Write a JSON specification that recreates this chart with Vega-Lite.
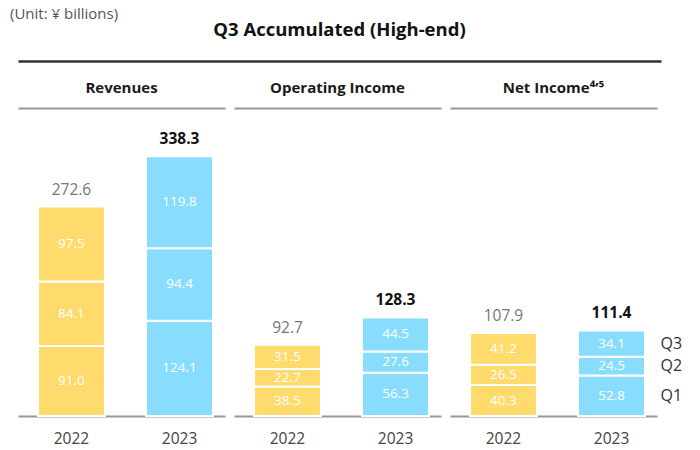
{
  "$schema": "https://vega.github.io/schema/vega-lite/v6.json",
  "padding": {"left": 10, "top": 7, "right": 5, "bottom": 5},
  "config": {"view": {"stroke": null}, "font": "Open Sans"},
  "spacing": 20,
  "vconcat": [
    {
      "width": 643,
      "height": 54,
      "data": {"values": [{"title": "Q3 Accumulated (High-end)", "unit": "(Unit: ¥ billions)"}]},
      "layer": [
        {
          "mark": {"type": "text", "fontSize": 18.5, "fontWeight": "bold", "color": "#111", "baseline": "middle"},
          "encoding": {
            "x": {"datum": 0.5, "type": "quantitative", "scale": {"domain": [0, 1]}, "axis": {"orient": "bottom", "domain": true, "domainColor": "#333", "domainWidth": 2.5, "labels": false, "ticks": false, "grid": false, "title": null}},
            "y": {"datum": 0.575, "type": "quantitative", "scale": {"domain": [0, 1]}, "axis": null},
            "text": {"field": "title"}
          }
        },
        {
          "mark": {"type": "text", "fontSize": 15, "color": "#555", "align": "left", "baseline": "top", "dx": -8},
          "encoding": {
            "x": {"datum": 0, "type": "quantitative", "scale": {"domain": [0, 1]}, "axis": {"orient": "bottom", "domain": true, "domainColor": "#333", "domainWidth": 2.5, "labels": false, "ticks": false, "grid": false, "title": null}},
            "y": {"datum": 1, "type": "quantitative", "scale": {"domain": [0, 1]}, "axis": null},
            "text": {"field": "unit"}
          }
        }
      ]
    },
    {
      "data": {"values": [
        {"metric": "Revenues", "year": "2022", "kind": "quarter", "q": "Q1", "value": 91.0},
        {"metric": "Revenues", "year": "2022", "kind": "quarter", "q": "Q2", "value": 84.1},
        {"metric": "Revenues", "year": "2022", "kind": "quarter", "q": "Q3", "value": 97.5},
        {"metric": "Revenues", "year": "2023", "kind": "quarter", "q": "Q1", "value": 124.1},
        {"metric": "Revenues", "year": "2023", "kind": "quarter", "q": "Q2", "value": 94.4},
        {"metric": "Revenues", "year": "2023", "kind": "quarter", "q": "Q3", "value": 119.8},
        {"metric": "Operating Income", "year": "2022", "kind": "quarter", "q": "Q1", "value": 38.5},
        {"metric": "Operating Income", "year": "2022", "kind": "quarter", "q": "Q2", "value": 22.7},
        {"metric": "Operating Income", "year": "2022", "kind": "quarter", "q": "Q3", "value": 31.5},
        {"metric": "Operating Income", "year": "2023", "kind": "quarter", "q": "Q1", "value": 56.3},
        {"metric": "Operating Income", "year": "2023", "kind": "quarter", "q": "Q2", "value": 27.6},
        {"metric": "Operating Income", "year": "2023", "kind": "quarter", "q": "Q3", "value": 44.5},
        {"metric": "Net Income⁴’⁵", "year": "2022", "kind": "quarter", "q": "Q1", "value": 40.3},
        {"metric": "Net Income⁴’⁵", "year": "2022", "kind": "quarter", "q": "Q2", "value": 26.5},
        {"metric": "Net Income⁴’⁵", "year": "2022", "kind": "quarter", "q": "Q3", "value": 41.2},
        {"metric": "Net Income⁴’⁵", "year": "2023", "kind": "quarter", "q": "Q1", "value": 52.8},
        {"metric": "Net Income⁴’⁵", "year": "2023", "kind": "quarter", "q": "Q2", "value": 24.5},
        {"metric": "Net Income⁴’⁵", "year": "2023", "kind": "quarter", "q": "Q3", "value": 34.1},
        {"metric": "Revenues", "year": "2022", "kind": "total", "total": 272.6},
        {"metric": "Revenues", "year": "2023", "kind": "total", "total": 338.3},
        {"metric": "Operating Income", "year": "2022", "kind": "total", "total": 92.7},
        {"metric": "Operating Income", "year": "2023", "kind": "total", "total": 128.3},
        {"metric": "Net Income⁴’⁵", "year": "2022", "kind": "total", "total": 107.9},
        {"metric": "Net Income⁴’⁵", "year": "2023", "kind": "total", "total": 111.4}
      ]},
      "facet": {
        "column": {
          "field": "metric",
          "type": "nominal",
          "sort": ["Revenues", "Operating Income", "Net Income⁴’⁵"],
          "header": {"title": null, "labelFontSize": 15, "labelFontWeight": "bold", "labelColor": "#1a1a1a", "labelPadding": 12}
        }
      },
      "spacing": 9,
      "bounds": "flush",
      "spec": {
        "width": 207,
        "height": 308,
        "encoding": {
          "x": {
            "field": "year",
            "type": "nominal",
            "scale": {"paddingInner": 0.38, "paddingOuter": 0.148, "align": 0.625},
            "axis": {"orient": "bottom", "domainColor": "#999", "domainWidth": 2, "ticks": false, "labelFontSize": 15.5, "labelColor": "#444", "labelPadding": 15, "labelAngle": 0, "title": null}
          }
        },
        "layer": [
          {
            "transform": [{"filter": {"field": "kind", "equal": "quarter"}}],
            "mark": {"type": "bar", "stroke": "white", "strokeWidth": 2},
            "encoding": {
              "y": {"field": "value", "type": "quantitative", "stack": "zero", "scale": {"domain": [0, 401], "nice": false},
                "axis": {"values": [401], "grid": true, "gridColor": "#999", "gridWidth": 2, "labels": false, "ticks": false, "domain": false, "title": null}},
              "color": {"field": "year", "type": "nominal", "scale": {"domain": ["2022", "2023"], "range": ["#FFDB6E", "#88DDFF"]}, "legend": null},
              "detail": {"field": "q"},
              "order": {"field": "q", "sort": "ascending"}
            }
          },
          {
            "transform": [{"filter": {"field": "kind", "equal": "quarter"}}],
            "mark": {"type": "text", "color": "white", "fontSize": 13.5, "baseline": "middle"},
            "encoding": {
              "y": {"field": "value", "type": "quantitative", "stack": "zero", "bandPosition": 0.5,
                "axis": {"values": [401], "grid": true, "gridColor": "#999", "gridWidth": 2, "labels": false, "ticks": false, "domain": false, "title": null}},
              "detail": {"field": "q"},
              "order": {"field": "q", "sort": "ascending"},
              "text": {"field": "value", "type": "quantitative", "format": ".1f"}
            }
          },
          {
            "transform": [{"filter": "datum.kind == 'quarter' && datum.year == '2023' && datum.metric == 'Net Income⁴’⁵'"}],
            "mark": {"type": "text", "color": "#333", "fontSize": 16, "baseline": "middle", "align": "left", "dx": 49},
            "encoding": {
              "y": {"field": "value", "type": "quantitative", "stack": "zero", "bandPosition": 0.5,
                "axis": {"values": [401], "grid": true, "gridColor": "#999", "gridWidth": 2, "labels": false, "ticks": false, "domain": false, "title": null}},
              "detail": {"field": "q"},
              "order": {"field": "q", "sort": "ascending"},
              "text": {"field": "q"}
            }
          },
          {
            "transform": [{"filter": "datum.kind == 'total' && datum.year == '2022'"}],
            "mark": {"type": "text", "color": "#777", "fontSize": 15.5, "baseline": "alphabetic", "dy": -12},
            "encoding": {
              "y": {"field": "total", "type": "quantitative",
                "axis": {"values": [401], "grid": true, "gridColor": "#999", "gridWidth": 2, "labels": false, "ticks": false, "domain": false, "title": null}},
              "text": {"field": "total", "type": "quantitative", "format": ".1f"}
            }
          },
          {
            "transform": [{"filter": "datum.kind == 'total' && datum.year == '2023'"}],
            "mark": {"type": "text", "color": "#111", "fontSize": 15.5, "fontWeight": "bold", "baseline": "alphabetic", "dy": -12},
            "encoding": {
              "y": {"field": "total", "type": "quantitative",
                "axis": {"values": [401], "grid": true, "gridColor": "#999", "gridWidth": 2, "labels": false, "ticks": false, "domain": false, "title": null}},
              "text": {"field": "total", "type": "quantitative", "format": ".1f"}
            }
          }
        ]
      }
    }
  ]
}
